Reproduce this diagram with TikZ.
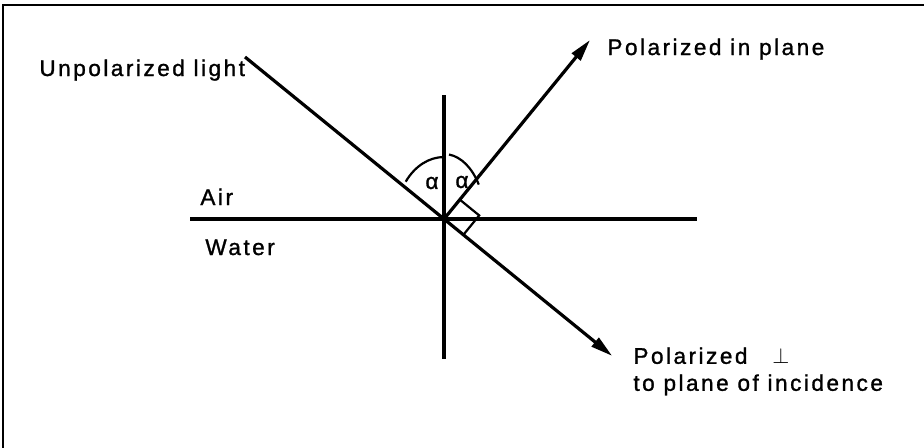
\documentclass[tikz,border=0pt]{standalone}
\usepackage{fontspec}
\setmainfont{Liberation Sans}
\newfontfamily\lblfont{Liberation Sans}[LetterSpace=11,FakeBold=1.2]
\usetikzlibrary{arrows.meta,calc}
\tikzset{
  lbl/.style={inner sep=0pt,font=\lblfont\fontsize{11.3}{13.5}\selectfont,align=left},
  ray/.style={line width=1.6pt},
  arr/.style={ray,-{Triangle[length=11pt,width=5.5pt]}},
  thinln/.style={line width=1.1pt}
}

\begin{document}
\begin{tikzpicture}[x=0.5pt,y=0.5pt]
  \useasboundingbox (0,0) rectangle (924,447);
  \draw[line width=1.4pt] (3,-4) -- (3,442) -- (930,442);

  % surface and normal
  \coordinate (O) at (444,228);
  \coordinate (wl) at (190,228);
  \coordinate (wr) at (697,228);
  \coordinate (nt) at (444,352);
  \coordinate (nb) at (444,88);
  \draw[ray] (wl) -- (wr);
  \draw[ray] (nt) -- (nb);

  % rays
  \node[lbl,anchor=base west] (unpol) at (39,371) {Unpolarized light};
  \coordinate (S) at (245,390);
  \coordinate (R) at (590,407);
  \coordinate (T) at ($(S)!1.845!(O)$);
  \node[lbl,anchor=base west] (inplane) at (607,392) {Polarized in plane};
  \node[lbl,anchor=north west] (perp) at (633,100) {Polarized\hspace{1.1em}$\perp$\\to plane of incidence};
  \draw[ray] (S) -- (O);
  \draw[arr] (O) -- (R);
  \draw[arr] (O) -- (T);

  % right angle
  \coordinate (p1) at ($(O)!12.5pt!(R)$);
  \coordinate (p2) at ($(O)!12.5pt!(T)$);
  \draw[thinln] (p1) -- ($(p1)+(p2)-(O)$) -- (p2);

  % angles
  \draw[thinln] ($(O)+(-38.3,37.3)$) arc[start angle=143,end angle=90,x radius=48,y radius=62];
  \draw[thinln] ($(O)+(5,64.5)$) arc[start angle=83,end angle=32,x radius=41,y radius=65];
  \node[lbl] (al1) at (432,264) {α};
  \node[lbl] (al2) at (462,265) {α};

  % media
  \node[lbl,anchor=base west] (air) at (200,242) {Air};
  \node[lbl,anchor=base west] (water) at (205,192) {Water};
\end{tikzpicture}
\end{document}
